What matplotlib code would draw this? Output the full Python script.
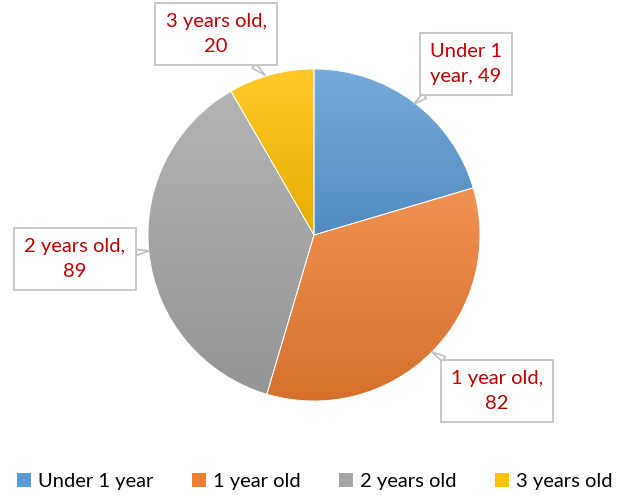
import numpy as np
import matplotlib.pyplot as plt
import matplotlib.colors as mcolors

plt.rcParams['font.family'] = ['Lato', 'DejaVu Sans']

categories = ['Under 1 year', '1 year old', '2 years old', '3 years old']
counts = [49, 82, 89, 20]
colors = ['#5B9BD5', '#ED7D31', '#A5A5A5', '#FFC000']

# callout box centers and tail tips (pixel coords, y up)
box_xy = [(466, 431), (497, 104), (75, 236), (216, 461)]
tip_xy = [(414, 391), (432, 143), (149, 244), (265, 420)]

fig = plt.figure(figsize=(6.29, 4.95), dpi=100)
ax = fig.add_axes([0, 0, 1, 1])

wedges, _ = ax.pie(counts, colors=colors, startangle=90, counterclock=False,
                   center=(314, 260), radius=166, frame=True,
                   wedgeprops=dict(edgecolor='white', linewidth=0.6))
ax.set_xlim(0, 629)
ax.set_ylim(0, 495)
ax.set_aspect('equal')
ax.axis('off')

# vertical gradient inside each slice
for w, c in zip(wedges, colors):
    rgb = np.array(mcolors.to_rgb(c))
    top = rgb + (1 - rgb) * 0.16
    bot = rgb * 0.9
    t = np.linspace(0, 1, 256)[:, None]
    grad = (top * (1 - t) + bot * t)[:, None, :]
    bb = w.get_path().get_extents(w.get_patch_transform())
    im = ax.imshow(grad, extent=[bb.x0, bb.x1, bb.y0, bb.y1], origin='upper',
                   aspect='auto', zorder=1.5, interpolation='bilinear')
    im.set_clip_path(w)
    w.set_zorder(2)
    w.set_facecolor('none')

for cat, n, bxy, txy in zip(categories, counts, box_xy, tip_xy):
    if cat == 'Under 1 year':
        label = 'Under 1\nyear, %d' % n
    else:
        label = '%s,\n%d' % (cat, n)
    ax.annotate(label, xy=txy, xytext=bxy, ha='center', va='center',
                multialignment='center',
                fontsize=14.5, color='#C00000', linespacing=1.6, zorder=5,
                bbox=dict(boxstyle='square,pad=0.5', fc='white', ec='#BFBFBF', lw=1.2),
                arrowprops=dict(arrowstyle='wedge,tail_width=0.3,shrink_factor=0.5',
                                fc='white', ec='#BFBFBF', lw=1.2, shrinkA=0, shrinkB=0))

handles = [plt.Rectangle((0, 0), 1, 1, fc=c) for c in colors]
fig.legend(handles, categories, loc='center', bbox_to_anchor=(0.5, 0.028), ncol=4,
           frameon=False, fontsize=14.5, handlelength=0.7, handleheight=0.7,
           handletextpad=0.35, columnspacing=1.9, borderaxespad=0)

fig.savefig('out.png', dpi=100)
